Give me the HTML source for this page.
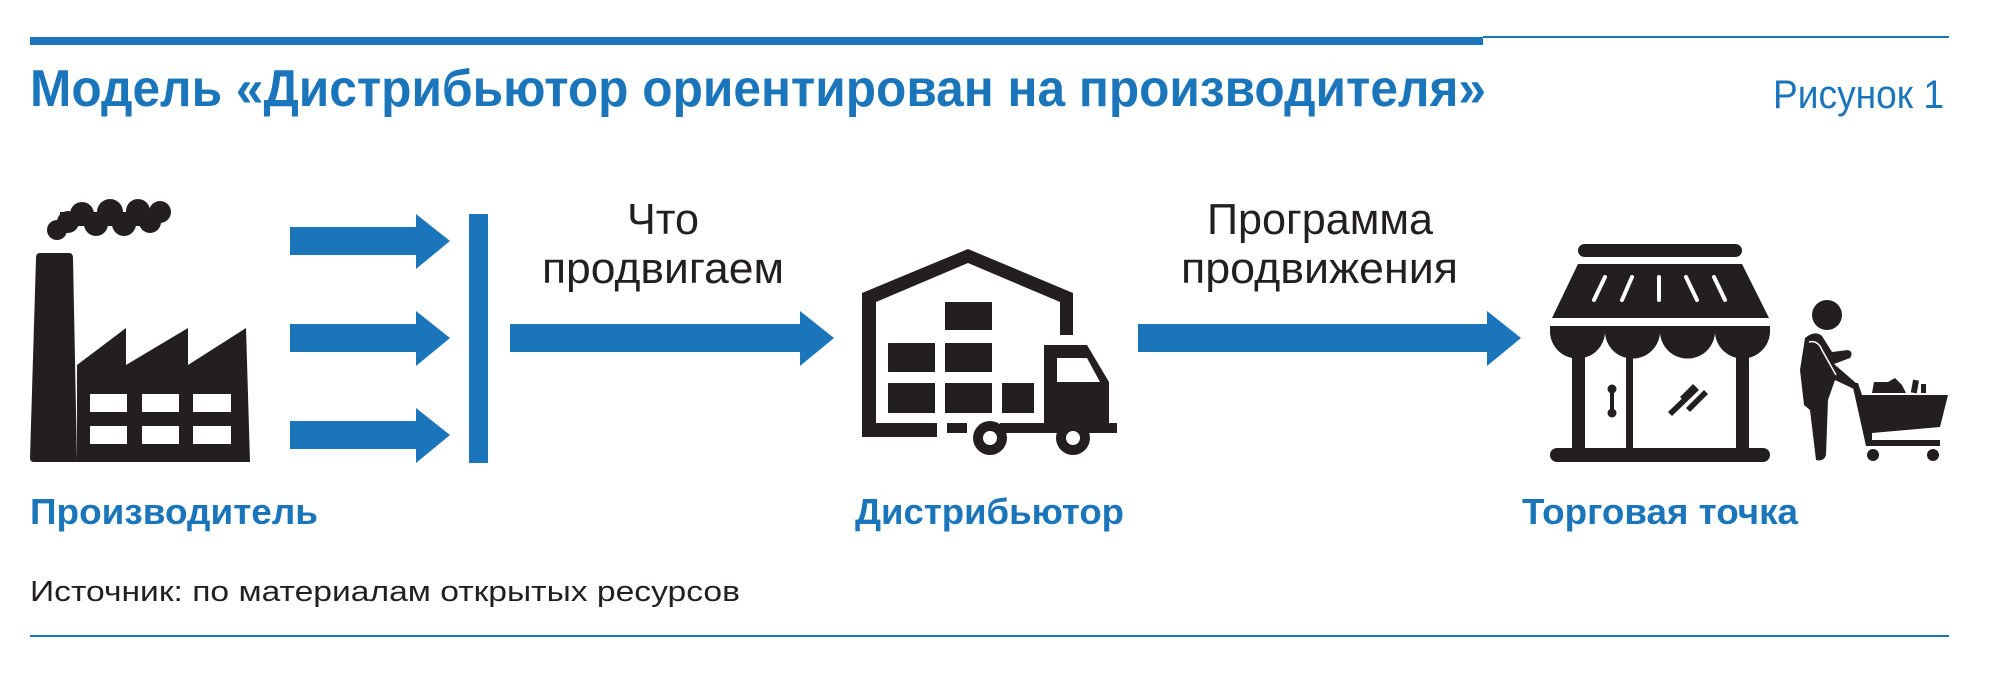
<!DOCTYPE html>
<html><head><meta charset="utf-8"><style>html,body{margin:0;padding:0;background:#fff}svg{display:block}</style></head>
<body>
<svg width="1996" height="673" viewBox="0 0 1996 673" xmlns="http://www.w3.org/2000/svg" font-family="Liberation Sans, sans-serif">
<rect width="1996" height="673" fill="#fff"/>
<rect x="30" y="37" width="1453" height="8" fill="#1a75bb"/>
<rect x="1483" y="36" width="466" height="2" fill="#1a75bb"/>
<text x="30" y="106" font-size="52" font-weight="bold" fill="#1a75bb" textLength="1456" lengthAdjust="spacingAndGlyphs">Модель «Дистрибьютор ориентирован на производителя»</text>
<text x="1773" y="108" font-size="40" fill="#1a75bb" textLength="171" lengthAdjust="spacingAndGlyphs">Рисунок 1</text>

<!-- factory -->
<g fill="#231f20">
<circle cx="57" cy="230" r="10"/><circle cx="68" cy="222" r="11"/><circle cx="82" cy="214" r="12"/><circle cx="96" cy="224" r="12"/><circle cx="110" cy="212" r="13"/><circle cx="124" cy="224" r="12"/><circle cx="138" cy="211" r="12"/><circle cx="150" cy="222" r="11"/><circle cx="160" cy="212" r="11"/>
<rect x="60" y="212" width="100" height="14"/>
<path d="M40 253 H69 Q73 253 73 258 L77 462 H34 Q30 462 30 458 L36 258 Q36 253 40 253 Z"/>
<path d="M77 365 L126 328 V365 L188 328 V365 L246 328 L250 462 H77 Z"/>
</g>
<g fill="#fff">
<rect x="90" y="394" width="37" height="18"/><rect x="142" y="394" width="37" height="18"/><rect x="193" y="394" width="38" height="18"/>
<rect x="90" y="426" width="37" height="18"/><rect x="142" y="426" width="37" height="18"/><rect x="193" y="426" width="38" height="18"/>
</g>

<g fill="#1a75bb">
<path d="M290 227 H416 V214 L450 241 L416 269 V255 H290 Z"/>
<path d="M290 324 H416 V311 L450 338 L416 366 V352 H290 Z"/>
<path d="M290 421 H416 V408 L450 435 L416 463 V449 H290 Z"/>
<rect x="469" y="214" width="19" height="249"/>
<path d="M510 324 H800 V311 L834 338 L800 366 V352 H510 Z"/>
<path d="M1138 324 H1487 V311 L1521 338 L1487 366 V352 H1138 Z"/>
</g>

<text x="663" y="234" font-size="44" fill="#231f20" text-anchor="middle" textLength="72" lengthAdjust="spacingAndGlyphs">Что</text>
<text x="542" y="283" font-size="44" fill="#231f20" textLength="242" lengthAdjust="spacingAndGlyphs">продвигаем</text>
<text x="1320" y="234" font-size="44" fill="#231f20" text-anchor="middle" textLength="226" lengthAdjust="spacingAndGlyphs">Программа</text>
<text x="1181" y="283" font-size="44" fill="#231f20" textLength="277" lengthAdjust="spacingAndGlyphs">продвижения</text>

<g fill="#231f20">
<path d="M862 293 L968 249 L1073 293 V335 H1060 V302 L968 263 L876 302 V423 H937 V437 H862 Z"/>
<rect x="945" y="302" width="47" height="28"/>
<rect x="888" y="343" width="47" height="29"/><rect x="945" y="343" width="47" height="29"/>
<rect x="888" y="383" width="47" height="30"/><rect x="945" y="383" width="47" height="30"/><rect x="1002" y="383" width="32" height="30"/>
<rect x="947" y="423" width="20" height="10"/>
<path d="M1044 345 H1087 L1109 382 V423 H1117 V433 H1044 Z"/>
<rect x="1000" y="423" width="60" height="10"/>
<circle cx="990" cy="438" r="17"/><circle cx="1073" cy="438" r="17"/>
</g>
<path d="M1057 358 H1087 L1100 382 H1057 Z" fill="#fff"/>
<circle cx="990" cy="438" r="7" fill="#fff"/><circle cx="1073" cy="438" r="7" fill="#fff"/>

<g fill="#231f20">
<rect x="1578" y="244" width="164" height="13" rx="6.5"/>
<path d="M1578 264 H1742 L1769 318 H1552 Z"/>
<path d="M1550 326 H1770 V331 A27.5 27.5 0 0 1 1715 331 A27.5 27.5 0 0 1 1660 331 A27.5 27.5 0 0 1 1605 331 A27.5 27.5 0 0 1 1550 331 Z"/>
<path d="M1550 331 A27.5 27.5 0 0 0 1605 331 A27.5 27.5 0 0 0 1660 331 A27.5 27.5 0 0 0 1715 331 A27.5 27.5 0 0 0 1770 331 Z"/>
<rect x="1572" y="345" width="13" height="105"/><rect x="1736" y="345" width="13" height="105"/><rect x="1626" y="350" width="7" height="100"/>
<rect x="1550" y="448" width="220" height="14" rx="7"/>
<circle cx="1612" cy="389" r="4.5"/><circle cx="1612" cy="413" r="4.5"/><rect x="1610" y="389" width="4" height="24"/>
<path d="M1680 397 L1693 384 L1697 388 L1684 401 Z"/><path d="M1668 412 L1695 386 L1699 390 L1672 416 Z"/><path d="M1686 408 L1704 390 L1708 394 L1690 412 Z"/>
</g>
<g stroke="#fff" stroke-width="4" stroke-linecap="round">
<line x1="1605" y1="277" x2="1594" y2="300"/><line x1="1632" y1="277" x2="1622" y2="300"/><line x1="1659" y1="277" x2="1659" y2="300"/><line x1="1686" y1="277" x2="1697" y2="300"/><line x1="1714" y1="277" x2="1725" y2="300"/>
</g>
<g fill="#231f20">
<circle cx="1827" cy="315" r="15"/>
<path d="M1805 338 Q1815 330 1822 336 L1832 352 L1848 350 Q1854 352 1850 358 L1834 364 L1856 383 L1854 389 L1835 380 L1828 400 L1826 455 Q1824 462 1816 460 L1810 410 L1804 405 L1800 370 Z"/>
<path d="M1852 383 H1858 L1862 395 H1948 L1940 427 L1872 433 V440 H1940 V446 H1866 Z"/>
<path d="M1872 393 L1874 382 L1888 382 L1895 378 L1902 385 L1906 393 Z"/>
<rect x="1912" y="380" width="6" height="13" transform="rotate(10 1915 386)"/><rect x="1921" y="384" width="5" height="9"/>
<circle cx="1873" cy="455" r="6"/><circle cx="1933" cy="455" r="6"/>
</g>
<path d="M1809 342 Q1818 340 1822 350 L1836 375" stroke="#fff" stroke-width="1.5" fill="none"/>

<text x="30" y="524" font-size="36" font-weight="bold" fill="#1a75bb" textLength="288" lengthAdjust="spacingAndGlyphs">Производитель</text>
<text x="855" y="524" font-size="36" font-weight="bold" fill="#1a75bb" textLength="269" lengthAdjust="spacingAndGlyphs">Дистрибьютор</text>
<text x="1522" y="524" font-size="36" font-weight="bold" fill="#1a75bb" textLength="276" lengthAdjust="spacingAndGlyphs">Торговая точка</text>
<text x="30" y="601" font-size="29" fill="#231f20" textLength="710" lengthAdjust="spacingAndGlyphs">Источник: по материалам открытых ресурсов</text>
<rect x="30" y="635" width="1919" height="2" fill="#1a75bb"/>
</svg>
</body></html>
